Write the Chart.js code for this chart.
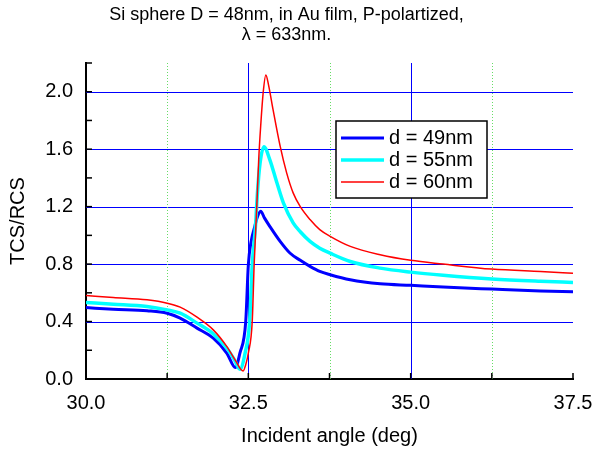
<!DOCTYPE html>
<html>
<head>
<meta charset="utf-8">
<script src="https://cdn.jsdelivr.net/npm/chart.js@4/dist/chart.umd.min.js"></script>
<style>
  body { margin: 0; background: #fff; }
  #wrap { width: 594px; height: 450px; }
</style>
</head>
<body>
<div id="wrap"><canvas id="tcs-chart" width="594" height="450"></canvas></div>
<script>
// values (incident angle in deg -> TCS/RCS)
const angles49 = [30.0, 30.42, 30.94, 31.25, 31.45, 31.71, 31.96, 32.17, 32.3, 32.37, 32.46, 32.5, 32.54, 32.6, 32.63, 32.69, 32.75, 32.83, 32.99, 33.14, 33.3, 33.45, 33.6, 33.76, 34.07, 34.53, 35.0, 35.5, 36.25, 37.0, 37.5];
const tcs49 = [0.497, 0.486, 0.475, 0.458, 0.424, 0.354, 0.284, 0.179, 0.08, 0.18, 0.40, 0.795, 0.95, 1.063, 1.115, 1.168, 1.12, 1.063, 0.958, 0.877, 0.826, 0.784, 0.749, 0.726, 0.691, 0.663, 0.652, 0.64, 0.626, 0.613, 0.607];

const angles55 = [30.0, 30.42, 30.94, 31.25, 31.45, 31.71, 31.96, 32.17, 32.29, 32.37, 32.45, 32.52, 32.56, 32.61, 32.64, 32.68, 32.74, 32.83, 32.94, 33.04, 33.19, 33.3, 33.45, 33.6, 33.76, 34.07, 34.53, 35.0, 35.5, 36.25, 37.0, 37.5];
const tcs55 = [0.532, 0.521, 0.505, 0.481, 0.458, 0.389, 0.314, 0.214, 0.13, 0.068, 0.18, 0.40, 0.795, 1.063, 1.296, 1.50, 1.617, 1.528, 1.366, 1.226, 1.087, 1.025, 0.958, 0.911, 0.876, 0.818, 0.772, 0.744, 0.722, 0.696, 0.68, 0.672];

const angles60 = [30.0, 30.42, 30.94, 31.25, 31.45, 31.71, 31.96, 32.17, 32.3, 32.42, 32.46, 32.5, 32.56, 32.59, 32.63, 32.66, 32.69, 32.73, 32.77, 32.81, 32.88, 32.99, 33.09, 33.19, 33.3, 33.45, 33.6, 33.76, 34.07, 34.53, 35.0, 35.5, 36.25, 37.0, 37.5];
const tcs60 = [0.581, 0.567, 0.551, 0.528, 0.50, 0.43, 0.342, 0.225, 0.13, 0.056, 0.10, 0.18, 0.40, 0.80, 1.2, 1.53, 1.76, 2.0, 2.117, 2.05, 1.877, 1.621, 1.435, 1.296, 1.20, 1.11, 1.04, 0.993, 0.923, 0.865, 0.826, 0.80, 0.765, 0.748, 0.737];

const seriesLabels = ["d = 49nm", "d = 55nm", "d = 60nm"];
const titleLines = ["Si sphere D = 48nm, in Au film, P-polartized,", "\u03bb = 633nm."];

const FONT = "'Liberation Sans', Arial, Helvetica, sans-serif";
Chart.defaults.font.family = FONT;
Chart.defaults.color = "#000";

function pts(xs, ys) {
  return xs.map((x, i) => ({x: x, y: ys[i]}));
}
function isMajorX(v) { return Math.round(v * 4) % 10 === 0; }
function isLabelY(v) { return Math.round(v * 10) % 4 === 0; }

function vline(ctx, x, top, bottom) {
  ctx.beginPath();
  ctx.moveTo(x, top);
  ctx.lineTo(x, bottom);
  ctx.stroke();
}
function hline(ctx, y, left, right) {
  ctx.beginPath();
  ctx.moveTo(left, y);
  ctx.lineTo(right, y);
  ctx.stroke();
}

// grid (blue solid + green dotted), inward tick marks and boxed legend
const extras = {
  id: "extras",
  beforeDatasetsDraw(chart) {
    const {ctx, chartArea, scales} = chart;
    const xs = scales.x, ys = scales.y;
    ctx.save();
    ctx.lineWidth = 1;
    ctx.strokeStyle = "#0000ff";
    xs.ticks.forEach(t => {
      if (!isMajorX(t.value) || t.value <= xs.min || t.value >= xs.max) return;
      vline(ctx, Math.round(xs.getPixelForValue(t.value)) + 0.5, chartArea.top, chartArea.bottom);
    });
    ys.ticks.forEach(t => {
      if (!isLabelY(t.value) || t.value < 0.1 || t.value > 2.1) return;
      hline(ctx, Math.round(ys.getPixelForValue(t.value)) + 0.5, chartArea.left, chartArea.right);
    });
    ctx.strokeStyle = "#66dd66";
    ctx.setLineDash([1, 2]);
    xs.ticks.forEach(t => {
      if (isMajorX(t.value)) return;
      vline(ctx, Math.round(xs.getPixelForValue(t.value)) + 0.5, chartArea.top, chartArea.bottom);
    });
    ctx.restore();
  },
  afterDatasetsDraw(chart) {
    const {ctx, chartArea, scales} = chart;
    ctx.save();
    ctx.strokeStyle = "#000";
    ctx.lineWidth = 1.5;
    scales.x.ticks.forEach(t => {
      vline(ctx, scales.x.getPixelForValue(t.value), chartArea.bottom, chartArea.bottom - 6);
    });
    scales.y.ticks.forEach(t => {
      hline(ctx, scales.y.getPixelForValue(t.value), chartArea.left, chartArea.left + 6);
    });

    // legend
    const bx = chartArea.left + 250, by = chartArea.top + 58, bw = 151, bh = 77;
    ctx.fillStyle = "#fff";
    ctx.fillRect(bx, by, bw, bh);
    ctx.lineWidth = 1.5;
    ctx.strokeRect(bx, by, bw, bh);
    ctx.font = "20px " + FONT;
    ctx.textBaseline = "middle";
    chart.data.datasets.forEach((ds, i) => {
      const y = by + 17 + i * 22;
      ctx.strokeStyle = ds.borderColor;
      ctx.lineWidth = ds.borderWidth;
      hline(ctx, y, bx + 5, bx + 48);
      ctx.fillStyle = "#000";
      ctx.fillText(ds.label, bx + 53, y);
    });
    ctx.restore();
  }
};

new Chart(document.getElementById("tcs-chart"), {
  type: "scatter",
  data: {
    datasets: [
      {label: seriesLabels[0], data: pts(angles49, tcs49), borderColor: "#0000ff", borderWidth: 3, order: 3},
      {label: seriesLabels[1], data: pts(angles55, tcs55), borderColor: "#00ffff", borderWidth: 3.5, order: 2},
      {label: seriesLabels[2], data: pts(angles60, tcs60), borderColor: "#ff0000", borderWidth: 1.5, order: 1}
    ]
  },
  options: {
    responsive: false,
    animation: false,
    showLine: true,
    layout: {padding: {left: 0, right: 21, top: 0, bottom: 0}},
    elements: {
      point: {radius: 0, hoverRadius: 0},
      line: {cubicInterpolationMode: "monotone", fill: false}
    },
    plugins: {
      legend: {display: false},
      tooltip: {enabled: false},
      title: {
        display: true,
        text: titleLines,
        color: "#000",
        font: {size: 18, weight: "normal", lineHeight: "20px"},
        padding: {top: 5, bottom: 18}
      }
    },
    scales: {
      x: {
        type: "linear",
        min: 30,
        max: 37.5,
        afterFit: s => { s.height = 71; s.paddingLeft = 0; s.paddingRight = 0; },
        ticks: {
          stepSize: 1.25,
          autoSkip: false,
          maxRotation: 0,
          padding: 12,
          font: {size: 20},
          callback: v => isMajorX(v) ? v.toFixed(1) : ""
        },
        grid: {drawOnChartArea: false, drawTicks: false},
        border: {display: true, color: "#000", width: 2},
        title: {display: true, text: "Incident angle (deg)", font: {size: 20}, padding: {top: 0, bottom: 2}}
      },
      y: {
        min: 0,
        max: 2.2,
        afterFit: s => { s.width = 86; s.paddingTop = 0; s.paddingBottom = 0; },
        ticks: {
          stepSize: 0.2,
          autoSkip: false,
          padding: 13,
          font: {size: 20},
          callback: v => isLabelY(v) ? v.toFixed(1) : ""
        },
        grid: {drawOnChartArea: false, drawTicks: false},
        border: {display: true, color: "#000", width: 2},
        title: {display: true, text: "TCS/RCS", font: {size: 20}, padding: {top: 6, bottom: 0}}
      }
    }
  },
  plugins: [extras]
});
</script>
</body>
</html>
